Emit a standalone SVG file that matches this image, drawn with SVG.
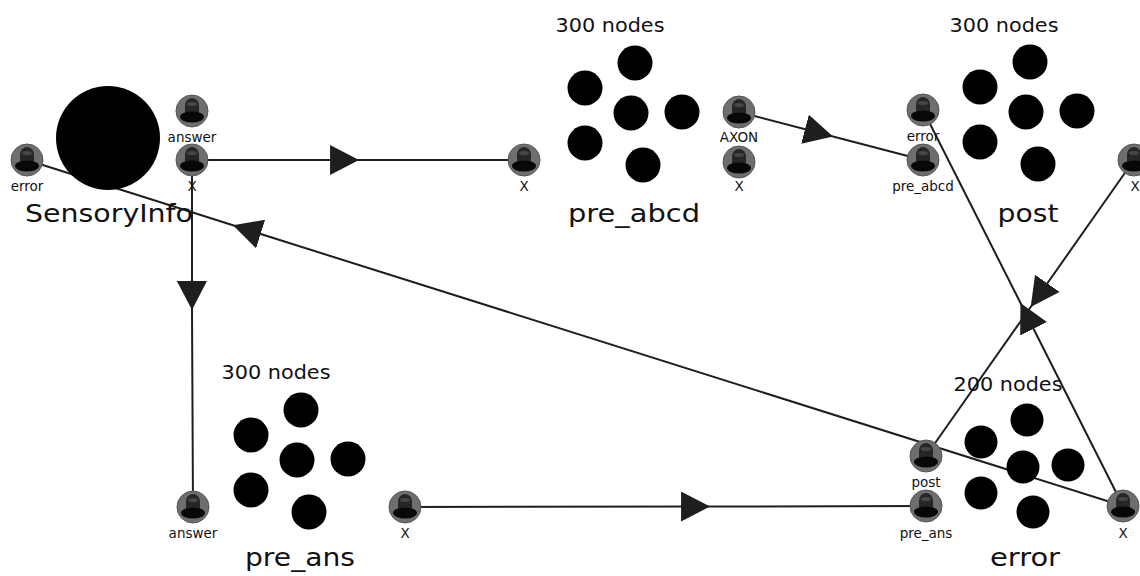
<svg xmlns="http://www.w3.org/2000/svg" xmlns:xlink="http://www.w3.org/1999/xlink" width="1140" height="576" viewBox="0 0 1140 576">
  <style>
    .wire { fill: none; stroke: #1e1e1e; stroke-width: 2; marker-mid: url(#arrow); }
    .neuron { fill: #000; }
    .title { font-family: "DejaVu Sans", "Liberation Sans", sans-serif; font-size: 24px; fill: #111; text-anchor: middle; }
    .count { font-family: "DejaVu Sans", "Liberation Sans", sans-serif; font-size: 19px; fill: #111; text-anchor: middle; }
    .plabel { font-family: "DejaVu Sans", "Liberation Sans", sans-serif; font-size: 13.5px; fill: #111; text-anchor: middle; }
  </style>
  <defs>
    <!-- arrowhead placed on the interior vertex of each connector -->
    <marker id="arrow" markerUnits="userSpaceOnUse" markerWidth="30" markerHeight="30" viewBox="0 0 28 28" refX="27" refY="14" orient="auto">
      <path d="M0,0 L27,14 L0,28 Z" fill="#1e1e1e"/>
    </marker>
    <!-- origin/termination port: grey disc with a bell glyph -->
    <g id="port">
      <circle r="16" fill="#6e6e6e" stroke="#555" stroke-width="1"/>
      <path d="M-7,5 V-5 A7,8 0 0 1 7,-5 V5 Z" fill="#262626"/>
      <ellipse cx="0" cy="-7" rx="5" ry="2" fill="#474747"/>
      <ellipse cx="0" cy="6" rx="12" ry="5.5" fill="#080808"/>
    </g>
    <!-- six-neuron population glyph, centred on the middle neuron -->
    <g id="pop">
      <circle class="neuron" cx="4" cy="-50" r="17.5"/>
      <circle class="neuron" cx="-46" cy="-25" r="17.5"/>
      <circle class="neuron" cx="0" cy="0" r="17.5"/>
      <circle class="neuron" cx="51" cy="-1" r="17.5"/>
      <circle class="neuron" cx="-46" cy="30" r="17.5"/>
      <circle class="neuron" cx="12" cy="52" r="17.5"/>
    </g>
  </defs>

  <rect width="1140" height="576" fill="#fff"/>

  <g id="connectors">
    <!-- SensoryInfo.X -> pre_abcd.X -->
    <path class="wire" d="M192,160 L359,160 L524,160"/>
    <!-- SensoryInfo.X -> pre_ans.answer -->
    <path class="wire" d="M192,160 L192,310 L193,507"/>
    <!-- pre_abcd.AXON -> post.pre_abcd -->
    <path class="wire" d="M739,112 L833,136.5 L923,160"/>
    <!-- pre_ans.X -> error.pre_ans -->
    <path class="wire" d="M405,507 L710,506.5 L926,506"/>
    <!-- error.X -> SensoryInfo.error -->
    <path class="wire" d="M1123,506 L233,225.3 L27,160"/>
    <!-- post.X -> error.post -->
    <path class="wire" d="M1134,160 L1030.7,307 L926,456"/>
    <!-- error.X -> post.error -->
    <path class="wire" d="M1123,506 L1020.5,303 L923,110"/>
  </g>

  <g id="SensoryInfo">
    <circle cx="108" cy="138" r="52" fill="#000"/>
    <use xlink:href="#port" x="27" y="160"/>
    <text class="plabel" x="27" y="191">error</text>
    <use xlink:href="#port" x="192" y="111"/>
    <text class="plabel" x="192" y="142">answer</text>
    <use xlink:href="#port" x="192" y="160"/>
    <text class="plabel" x="192" y="191">X</text>
    <text class="title" x="109" y="222" textLength="168" lengthAdjust="spacingAndGlyphs">SensoryInfo</text>
  </g>

  <g id="pre_abcd">
    <text class="count" x="610" y="32" textLength="109" lengthAdjust="spacingAndGlyphs">300 nodes</text>
    <use xlink:href="#pop" x="631" y="113"/>
    <use xlink:href="#port" x="524" y="160"/>
    <text class="plabel" x="524" y="191">X</text>
    <use xlink:href="#port" x="739" y="112"/>
    <text class="plabel" x="739" y="142">AXON</text>
    <use xlink:href="#port" x="739" y="162"/>
    <text class="plabel" x="739" y="191">X</text>
    <text class="title" x="634" y="222" textLength="132" lengthAdjust="spacingAndGlyphs">pre_abcd</text>
  </g>

  <g id="post">
    <text class="count" x="1004" y="32" textLength="109" lengthAdjust="spacingAndGlyphs">300 nodes</text>
    <use xlink:href="#pop" x="1026" y="112"/>
    <use xlink:href="#port" x="923" y="110"/>
    <text class="plabel" x="923" y="141">error</text>
    <use xlink:href="#port" x="923" y="160"/>
    <text class="plabel" x="923" y="191">pre_abcd</text>
    <use xlink:href="#port" x="1134" y="160"/>
    <text class="plabel" x="1135" y="191">X</text>
    <text class="title" x="1028" y="222" textLength="61" lengthAdjust="spacingAndGlyphs">post</text>
  </g>

  <g id="pre_ans">
    <text class="count" x="276" y="379" textLength="109" lengthAdjust="spacingAndGlyphs">300 nodes</text>
    <use xlink:href="#pop" x="297" y="460"/>
    <use xlink:href="#port" x="193" y="507"/>
    <text class="plabel" x="193" y="538">answer</text>
    <use xlink:href="#port" x="405" y="507"/>
    <text class="plabel" x="405" y="538">X</text>
    <text class="title" x="300" y="566" textLength="110" lengthAdjust="spacingAndGlyphs">pre_ans</text>
  </g>

  <g id="error">
    <text class="count" x="1008" y="391" textLength="109" lengthAdjust="spacingAndGlyphs">200 nodes</text>
    <circle class="neuron" cx="1027" cy="420" r="16.5"/>
    <circle class="neuron" cx="981" cy="442" r="16.5"/>
    <circle class="neuron" cx="1023" cy="467" r="16.5"/>
    <circle class="neuron" cx="1068" cy="465" r="16.5"/>
    <circle class="neuron" cx="981" cy="493" r="16.5"/>
    <circle class="neuron" cx="1033" cy="512" r="16.5"/>
    <use xlink:href="#port" x="926" y="456"/>
    <text class="plabel" x="926" y="487">post</text>
    <use xlink:href="#port" x="926" y="506"/>
    <text class="plabel" x="926" y="538">pre_ans</text>
    <use xlink:href="#port" x="1123" y="506"/>
    <text class="plabel" x="1123" y="538">X</text>
    <text class="title" x="1025" y="566" textLength="70" lengthAdjust="spacingAndGlyphs">error</text>
  </g>
</svg>
